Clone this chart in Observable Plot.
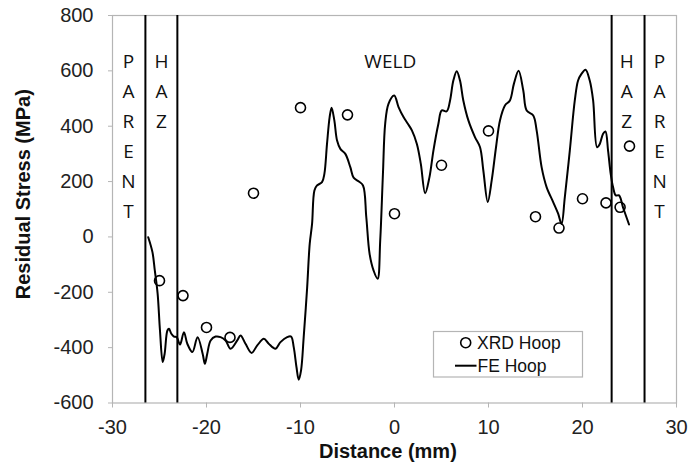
<!DOCTYPE html>
<html><head><meta charset="utf-8">
<script src="https://cdn.jsdelivr.net/npm/d3@7"></script>
<script src="https://cdn.jsdelivr.net/npm/@observablehq/plot@0.6"></script>
<style>body{margin:0;background:#fff} #chart{width:690px;height:476px}</style>
</head><body><div id="chart"></div>
<script>
// XRD hoop measurements
const xrdX = [-25, -22.5, -20, -17.5, -15, -10, -5, 0, 5, 10, 15, 17.5, 20, 22.5, 24, 25];
const xrdY = [-158, -212, -327, -363, 158, 467, 441, 84, 259, 383, 73, 32, 138, 123, 107, 328];

// FE hoop prediction
const feX = [-26.2, -25.75, -25.5, -25.2, -24.95, -24.66, -24.45, -24.16, -23.99, -23.74, -23.46, -23.17,
  -22.82, -22.4, -22.04, -21.5, -20.95, -20.41, -20.17, -19.92, -19.56, -19.03, -18.5, -17.97, -17.44,
  -16.73, -16.38, -15.85, -15.21, -14.6, -13.9, -13.38, -12.66, -12.13, -11.42, -11.0, -10.72, -10.43,
  -10.19, -9.94, -9.66, -9.3, -9.02, -8.77, -8.52, -8.24, -7.71, -7.46, -7.18, -6.9, -6.69, -6.4, -6.11,
  -5.76, -5.23, -4.7, -4.35, -3.82, -3.35, -3.0, -2.65, -2.23, -1.8, -1.52, -1.23, -0.99, -0.64, -0.03,
  0.43, 0.96, 1.4, 1.85, 2.38, 2.8, 3.26, 3.72, 4.14, 4.67, 5.03, 5.56, 5.91, 6.26, 6.62, 6.97, 7.32,
  7.86, 8.57, 9.1, 9.45, 9.92, 10.34, 10.8, 11.22, 11.75, 12.28, 12.7, 13.2, 13.7, 14.06, 14.76, 15.12,
  15.65, 16.18, 16.88, 17.41, 17.77, 18.12, 18.65, 19.18, 19.53, 19.89, 20.32, 20.77, 21.13, 21.55,
  21.84, 22.19, 22.44, 22.72, 23.0, 23.25, 23.54, 23.89, 24.31, 24.95];
const feY = [-1, -55, -121, -205, -338, -452, -421, -338, -332, -350, -360, -362,
  -389, -344, -386, -416, -362, -422, -458, -422, -374, -360, -362, -374, -404,
  -374, -356, -386, -419, -392, -368, -386, -404, -380, -362, -360, -398, -470,
  -516, -482, -362, -187, -25, 47, 168, 186, 198, 228, 336, 433, 467, 421, 348,
  318, 300, 252, 214, 201, 186, 71, -61, -121, -151, -13, 228, 409, 481, 511,
  469, 433, 410, 385, 336, 264, 158, 216, 312, 409, 457, 454, 493, 565, 599, 565, 493,
  421, 360, 324, 240, 126, 204, 324, 421, 475, 493, 553, 600, 529, 457, 439, 385,
  252, 180, 126, 84, 47, 144, 312, 493, 565, 589, 604, 565, 493, 324,
  336, 373, 381, 312, 228, 180, 150, 150, 107, 45];

// Zone boundaries and labels
const boundaries = [-26.5, -23.1, 23.1, 26.6];
const zoneLabels = ["P\nA\nR\nE\nN\nT", "H\nA\nZ", "WELD", "H\nA\nZ", "P\nA\nR\nE\nN\nT"];
const zoneX = [-28.3, -24.8, -0.45, 24.7, 28.2];
const zoneTop = 687;

const xTicks = [-30, -20, -10, 0, 10, 20, 30];
const yTicks = [-600, -400, -200, 0, 200, 400, 600, 800];
const seriesNames = ["XRD Hoop", "FE Hoop"];
const xTitle = "Distance (mm)";
const yTitle = "Residual Stress (MPa)";

const xrd = xrdX.map((x, i) => ({x, y: xrdY[i]}));
const fe = feX.map((x, i) => ({x, y: feY[i]}));
const zones = zoneLabels.map((t, i) => ({t, x: zoneX[i], y: zoneTop}));

const grey = "#b5b5b5";
const fmt = d => String(d);

const chart = Plot.plot({
  width: 690, height: 476,
  marginLeft: 112, marginRight: 14, marginTop: 15, marginBottom: 73.5,
  style: {fontFamily: "'Liberation Sans', Arial, sans-serif", background: "#fff", overflow: "visible"},
  x: {domain: [-30, 30]},
  y: {domain: [-600, 800]},
  marks: [
    Plot.frame({stroke: grey, strokeWidth: 1.2}),
    Plot.axisX({ticks: xTicks, tickFormat: fmt, tickSize: 5, tickPadding: 12, stroke: grey, fill: "#222", fontSize: 20, label: null}),
    Plot.axisY({ticks: yTicks, tickFormat: fmt, tickSize: 4, tickPadding: 15, stroke: grey, fill: "#222", fontSize: 20, label: null}),
    Plot.ruleX(boundaries, {stroke: "#000", strokeWidth: 2}),
    Plot.line(fe, {x: "x", y: "y", curve: "catmull-rom", stroke: "#000", strokeWidth: 2}),
    Plot.dot(xrd, {x: "x", y: "y", r: 5, stroke: "#000", strokeWidth: 1.6, fill: "none"}),
    Plot.text(zones, {x: "x", y: "y", text: "t", lineAnchor: "top", lineHeight: 1.58, fontSize: 19,
      fontFamily: "'Open Sans', sans-serif", fill: "#111"}),
    Plot.text([xTitle], {frameAnchor: "bottom", dy: 54.5, dx: -6.6, fontSize: 20, fontWeight: "bold", fill: "#111"}),
    Plot.text([yTitle], {frameAnchor: "left", textAnchor: "middle", dx: -88.7, dy: -15, rotate: -90, fontSize: 20, fontWeight: "bold", fill: "#111"})
  ]
});

// Legend drawn inside the plot area
const svg = d3.select(chart);
const lg = svg.append("g").attr("font-family", "'Liberation Sans', Arial, sans-serif").attr("font-size", 17.5)
  .attr("fill", "#111").attr("text-anchor", "start");
lg.append("rect").attr("x", 433.5).attr("y", 331.5).attr("width", 149).attr("height", 45.5)
  .attr("fill", "#fff").attr("stroke", grey).attr("stroke-width", 1.2);
lg.append("circle").attr("cx", 465.7).attr("cy", 342.7).attr("r", 5).attr("fill", "none").attr("stroke", "#000").attr("stroke-width", 1.6);
lg.append("text").attr("x", 477).attr("y", 342.7).attr("dy", "0.35em").text(seriesNames[0]);
lg.append("line").attr("x1", 455).attr("x2", 476.5).attr("y1", 365.7).attr("y2", 365.7).attr("stroke", "#000").attr("stroke-width", 2);
lg.append("text").attr("x", 477.5).attr("y", 365.7).attr("dy", "0.35em").text(seriesNames[1]);

document.getElementById("chart").appendChild(chart);
</script>
</body></html>
